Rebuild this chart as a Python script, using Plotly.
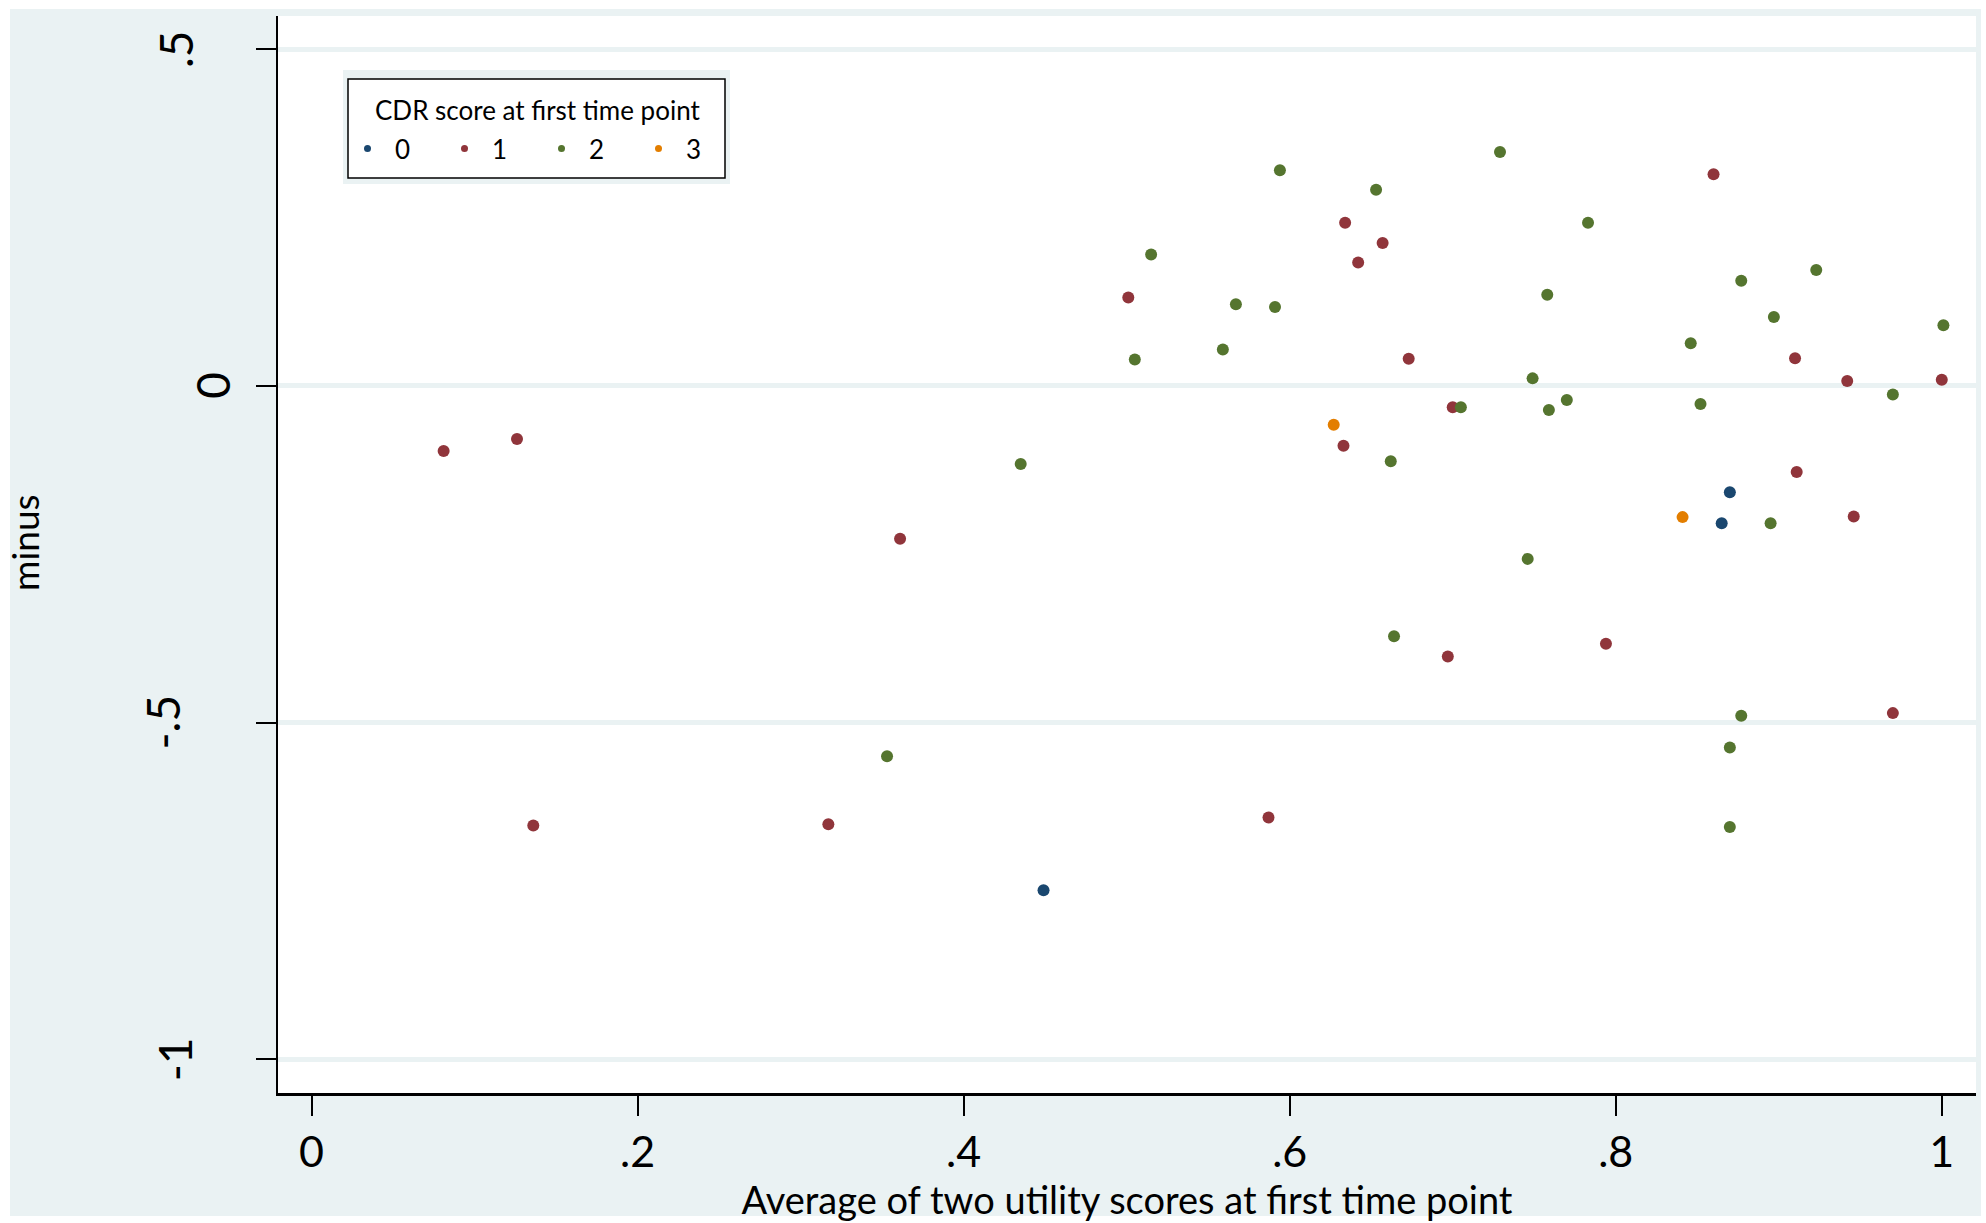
import plotly.graph_objects as go

# CDR score 0
cdr0_x = [0.449, 0.870, 0.865]
cdr0_y = [-0.749, -0.158, -0.204]

# CDR score 1
cdr1_x = [0.081, 0.126, 0.136, 0.317, 0.361, 0.501, 0.587, 0.633, 0.634, 0.642, 0.657,
          0.673, 0.697, 0.700, 0.794, 0.860, 0.910, 0.911, 0.942, 0.946, 0.970, 1.000]
cdr1_y = [-0.097, -0.079, -0.653, -0.651, -0.227, 0.131, -0.641, -0.089, 0.242, 0.183, 0.212,
          0.040, -0.402, -0.032, -0.383, 0.314, 0.041, -0.128, 0.007, -0.194, -0.486, 0.009]

# CDR score 2
cdr2_x = [0.353, 0.435, 0.505, 0.515, 0.559, 0.567, 0.591, 0.594, 0.653, 0.662, 0.664,
          0.705, 0.729, 0.746, 0.749, 0.758, 0.759, 0.770, 0.783, 0.846, 0.852, 0.870,
          0.870, 0.877, 0.877, 0.895, 0.897, 0.923, 0.970, 1.001]
cdr2_y = [-0.550, -0.116, 0.039, 0.195, 0.054, 0.121, 0.117, 0.320, 0.291, -0.112, -0.372,
          -0.032, 0.347, -0.257, 0.011, 0.135, -0.036, -0.021, 0.242, 0.063, -0.027, -0.537,
          -0.655, 0.156, -0.490, -0.204, 0.102, 0.172, -0.013, 0.090]

# CDR score 3
cdr3_x = [0.627, 0.841]
cdr3_y = [-0.058, -0.195]

group_names = ["0", "1", "2", "3"]
group_colors = ["#1a476f", "#90353b", "#55752f", "#e37e00"]

x_tickvals = [0, 0.2, 0.4, 0.6, 0.8, 1]
x_ticktext = ["0", ".2", ".4", ".6", ".8", "1"]
y_tickvals = [-1, -0.5, 0, 0.5]
y_ticktext = ["-1", "-.5", "0", ".5"]

BG = "#eaf2f3"
FONT = "Lato"

W, H = 1986, 1223
ML, MR, MT, MB = 278, 10, 16, 130
PW, PH = W - ML - MR, H - MT - MB


def px_x(X):
    return (X - ML) / PW


def px_y(Y):
    return (H - MB - Y) / PH


fig = go.Figure()

groups = [(cdr0_x, cdr0_y), (cdr1_x, cdr1_y), (cdr2_x, cdr2_y), (cdr3_x, cdr3_y)]
for (gx, gy), name, color in zip(groups, group_names, group_colors):
    # data points
    fig.add_trace(go.Scatter(
        x=gx, y=gy, mode="markers", name=name, legendgroup=name, showlegend=False,
        marker=dict(size=12, color=color, line=dict(width=0)),
        hoverinfo="x+y",
    ))
    # smaller legend key
    fig.add_trace(go.Scatter(
        x=[None], y=[None], mode="markers", name=name, legendgroup=name, showlegend=True,
        marker=dict(size=7, color=color, line=dict(width=0)),
    ))

shapes = [
    # graph region background
    dict(type="rect", xref="paper", yref="paper", layer="below",
         x0=px_x(10), x1=px_x(1981), y0=px_y(1216), y1=px_y(9),
         fillcolor=BG, line=dict(width=0)),
    # plot region
    dict(type="rect", xref="paper", yref="paper", layer="below",
         x0=0, x1=1, y0=0, y1=1, fillcolor="white", line=dict(width=0)),
    # frame around the legend box
    dict(type="rect", xref="paper", yref="paper", layer="above",
         x0=px_x(343), x1=px_x(730), y0=px_y(184), y1=px_y(70),
         fillcolor=BG, line=dict(width=0)),
    # legend box
    dict(type="rect", xref="paper", yref="paper", layer="above",
         x0=px_x(348), x1=px_x(725), y0=px_y(178), y1=px_y(79),
         fillcolor="white", line=dict(color="black", width=1.5)),
]

# rotated y tick labels, each centred on its tick
y_label_x = {"-1": 174, "-.5": 163, "0": 213, ".5": 175}
annotations = [
    dict(text=t, x=px_x(y_label_x[t]), y=v, xref="paper", yref="y",
         textangle=-90, showarrow=False, xanchor="center", yanchor="middle",
         font=dict(size=46, family=FONT, color="black"))
    for v, t in zip(y_tickvals, y_ticktext)
]
# y axis title
annotations.append(dict(
    text="minus", x=px_x(24), y=px_y(543), xref="paper", yref="paper",
    textangle=-90, showarrow=False, xanchor="center", yanchor="middle",
    font=dict(size=37, family=FONT, color="black")))
# legend title
annotations.append(dict(
    text="CDR score at first time point", x=px_x(537), y=px_y(110),
    xref="paper", yref="paper", showarrow=False, xanchor="center", yanchor="middle",
    font=dict(size=26, family=FONT, color="black")))

fig.update_layout(
    width=W, height=H,
    margin=dict(l=ML, r=MR, t=MT, b=MB),
    paper_bgcolor="white",
    plot_bgcolor="white",
    font=dict(family=FONT, color="black"),
    shapes=shapes,
    annotations=annotations,
    showlegend=True,
    legend=dict(
        orientation="h",
        x=px_x(340), y=px_y(125), xanchor="left", yanchor="top",
        bgcolor="rgba(0,0,0,0)", borderwidth=0,
        font=dict(size=26, family=FONT, color="black"),
        itemwidth=45,
        entrywidth=37, entrywidthmode="pixels",
        itemclick=False, itemdoubleclick=False,
    ),
    xaxis=dict(
        range=[-0.0206, 1.021],
        tickvals=x_tickvals, ticktext=x_ticktext,
        showgrid=False, zeroline=False,
        showline=True, linecolor="black", linewidth=2.5,
        ticks="outside", ticklen=20, tickwidth=2, tickcolor="black",
        tickfont=dict(size=43, family=FONT, color="black"),
        title=dict(text="Average of two utility scores at first time point",
                   font=dict(size=38, family=FONT, color="black"), standoff=4),
        automargin=False,
    ),
    yaxis=dict(
        range=[-1.05, 0.549],
        tickvals=y_tickvals, showticklabels=False,
        showgrid=True, gridcolor=BG, gridwidth=5,
        zeroline=False,
        showline=True, linecolor="black", linewidth=2,
        ticks="outside", ticklen=20, tickwidth=2, tickcolor="black",
        automargin=False,
    ),
)

fig.write_html("out.html")
